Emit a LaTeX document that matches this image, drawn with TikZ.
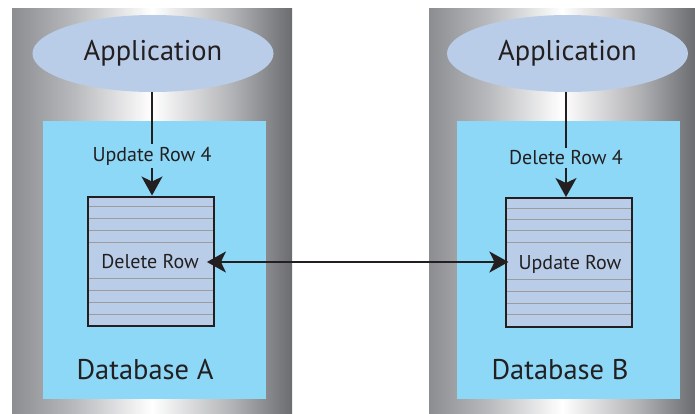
\documentclass[tikz,border=0pt]{standalone}
\usepackage{fontspec}
\setmainfont{PT Sans}
\usetikzlibrary{shapes.geometric,arrows.meta}
\definecolor{inkc}{HTML}{231F20}
\definecolor{appc}{HTML}{B9CDE9}
\definecolor{dbc}{HTML}{8ED8F7}
\definecolor{rowc}{HTML}{9C9C9C}
\definecolor{colL}{HTML}{8C8D91}
\definecolor{colLm}{HTML}{B8B9BC}
\definecolor{colRm}{HTML}{B4B5B8}
\definecolor{colR}{HTML}{6B6C70}
\pgfdeclarehorizontalshading{colshade}{100bp}{color(0bp)=(colL); color(25bp)=(colL); color(36bp)=(colLm); color(50bp)=(white); color(64bp)=(colRm); color(75bp)=(colR); color(100bp)=(colR)}
\tikzset{
  app/.style={ellipse, fill=appc, minimum width=241pt, minimum height=77pt, inner sep=0pt, text=inkc, font=\fontsize{28.5}{31}\selectfont},
  tbl/.style={rectangle, draw=inkc, line width=2pt, fill=appc, minimum width=126pt, minimum height=129pt, inner sep=0pt},
  lbl/.style={text=inkc, inner sep=3pt, font=\fontsize{20}{22}\selectfont},
  cell/.style={text=inkc, inner xsep=8pt, inner ysep=2pt, font=\fontsize{20}{22}\selectfont},
  dbname/.style={text=inkc, inner sep=0pt, font=\fontsize{28.5}{31}\selectfont},
  rowline/.style={draw=rowc, line width=1pt},
  conn/.style={draw=inkc, line width=1.5pt},
  tip/.tip={Stealth[length=19pt, width=21pt, inset=5pt]},
  arr/.style={conn, -tip},
  dbl/.style={draw=inkc, line width=2pt, tip-tip}
}
\begin{document}
\begin{tikzpicture}[x=1pt, y=-1pt]
\useasboundingbox (0,0) rectangle (695,413);
% columns
\shade[shading=colshade] (12,8) rectangle (292,413);
\shade[shading=colshade] (429,8) rectangle (695,413);
% database areas
\fill[dbc] (43,121) rectangle (266,399);
\fill[dbc] (457,121) rectangle (680,399);
% left side
\node[app] (appA) at (153,53.5) {Application};
\node[tbl] (tblA) at (151,261) {};
\foreach \yy in {206,218,230,242,278,290,302,314}
  \draw[rowline] (89,\yy) -- (213,\yy);
\node[lbl] (updA) at (152,156) {Update Row 4};
\node[cell] (delA) at (150,262) {Delete Row};
\node[dbname] (dbA) at (145,370) {Database A};
% right side
\node[app] (appB) at (567.5,53.5) {Application};
\node[tbl] (tblB) at (569,262.5) {};
\foreach \yy in {208,219,230,242,279,291,303,314}
  \draw[rowline] (507,\yy) -- (631,\yy);
\node[lbl] (delB) at (566,158) {Delete Row 4};
\node[cell, inner xsep=10pt] (updB) at (570,264) {Update Row};
\node[dbname] (dbB) at (560,370) {Database B};
% connectors
\draw[conn] (appA.south -| updA.north) -- (updA.north);
\draw[arr] (updA.south) -- (updA.south |- tblA.north);
\draw[conn] (appB.south -| delB.north) -- (delB.north);
\draw[arr] (delB.south) -- (delB.south |- tblB.north);
\draw[dbl] (delA.east) -- (delA.east -| updB.west);
\end{tikzpicture}
\end{document}
